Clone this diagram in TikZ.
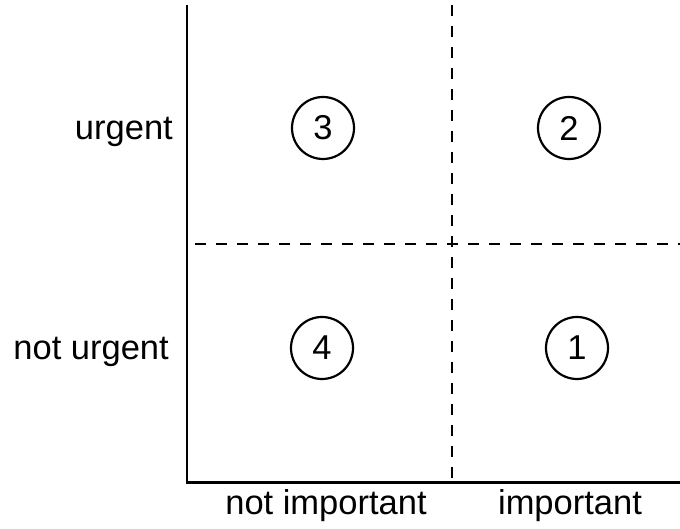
\documentclass[tikz,border=0pt]{standalone}
\usepackage{fontspec}
\setmainfont{Liberation Sans}
\begin{document}
\begin{tikzpicture}[x=1pt,y=1pt,
  axisline/.style={line width=2.8pt, black},
  divider/.style={line width=2.8pt, black, dash pattern=on 11pt off 10pt},
  numcircle/.style={circle, draw, line width=2.2pt, minimum size=62pt, inner sep=0pt, font=\fontsize{34.5}{40}\selectfont},
  lbl/.style={inner sep=0pt, font=\fontsize{34.5}{40}\selectfont}]
\useasboundingbox (0,0) rectangle (680,529);
\coordinate (top) at (187,524);
\coordinate (corner) at (187,46.5);
\coordinate (right) at (680,46.5);
\coordinate (vtop) at (452,524);
\coordinate (vbot) at (452,50);
\coordinate (hleft) at (195,285);
\coordinate (hright) at (680,285);
\draw[axisline] (top) -- (corner) -- (right);
\draw[divider] (vtop) -- (vbot);
\draw[divider] (hleft) -- (hright);
\node[numcircle] (c3) at (323,401) {3};
\node[numcircle] (c2) at (569,401) {2};
\node[numcircle] (c4) at (322,181) {4};
\node[numcircle] (c1) at (577,181) {1};
\node[lbl, anchor=base east] (u) at (173,389) {urgent};
\node[lbl, anchor=base east] (nu) at (169,169) {not urgent};
\node[lbl, anchor=base] (ni) at (326,14) {not important};
\node[lbl, anchor=base] (im) at (570,14) {important};
\end{tikzpicture}
\end{document}
